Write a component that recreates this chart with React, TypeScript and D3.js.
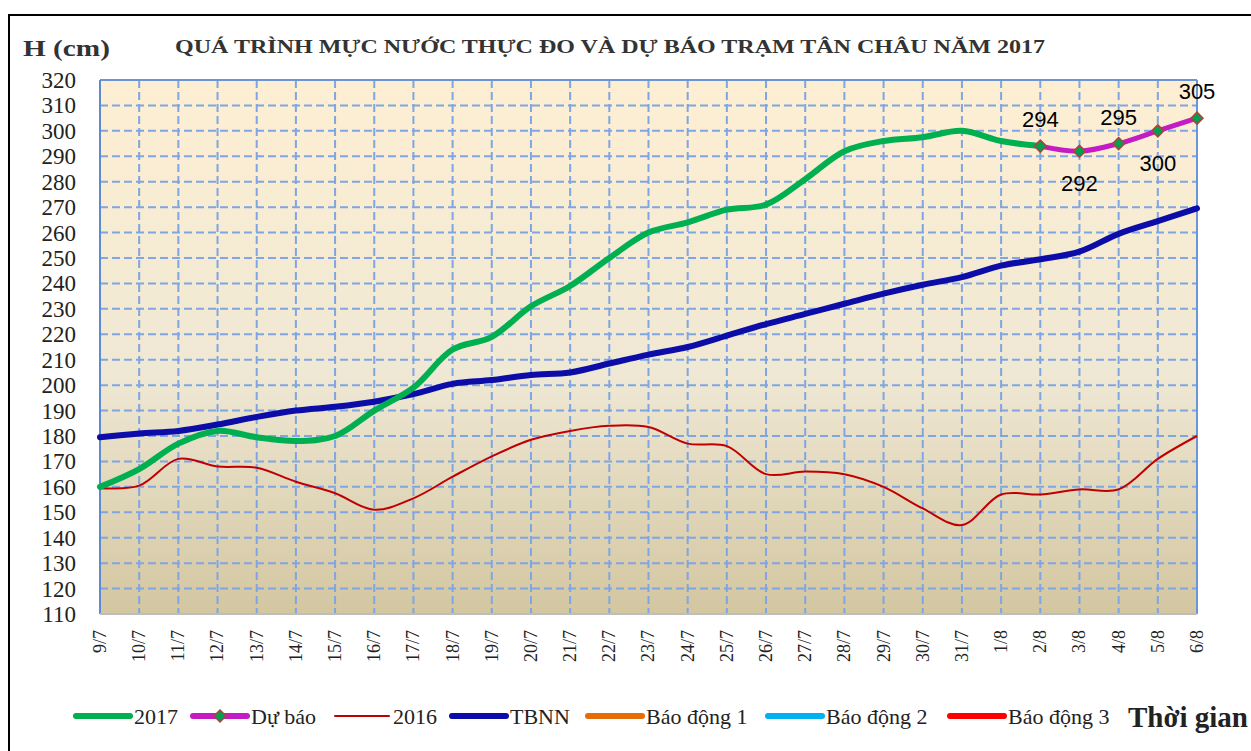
import React from 'react';
import * as d3 from 'd3';

const categories = ['9/7','10/7','11/7','12/7','13/7','14/7','15/7','16/7','17/7','18/7','19/7','20/7','21/7','22/7','23/7','24/7','25/7','26/7','27/7','28/7','29/7','30/7','31/7','1/8','2/8','3/8','4/8','5/8','6/8'];
const obs2017 = [160,167,177,182,179.5,178,180,190,199,214,219,231,239,250,260,264,269,271,281,292,296,297.5,300,296,294];
const forecastCats = ['2/8','3/8','4/8','5/8','6/8'];
const forecast = [294,292,295,300,305];
const forecastLabelPos = ['above','below','above','below','above'];
const y2016 = [159.5,160.5,171,168,167.5,162,157.5,151,155.5,164,172,178.5,182,184,183.5,177,176,165,166,165,160,151.5,145,157,157,159,159,171,180];
const tbnn = [179.5,181,182,184.5,187.5,190,191.5,193.5,196.5,200.5,202,204,205,208.5,212,215,219.5,224,228,232,236,239.5,242.5,247,249.5,252.5,259.5,264.5,269.5];
const yTicks = d3.range(110, 321, 10);

const legendItems = [
  { name: '2017', color: '#00B050', w: 6, marker: false, x: 76 },
  { name: 'Dự báo', color: '#C41BC4', w: 6, marker: true, x: 193 },
  { name: '2016', color: '#C00000', w: 2, marker: false, x: 335 },
  { name: 'TBNN', color: '#0C0CA8', w: 6, marker: false, x: 452 },
  { name: 'Báo động 1', color: '#E46C0A', w: 6, marker: false, x: 588 },
  { name: 'Báo động 2', color: '#00B0F0', w: 6, marker: false, x: 768 },
  { name: 'Báo động 3', color: '#FF0000', w: 6, marker: false, x: 950 },
];

const W = 1251, H = 751;
const L = 100, R = 1197, T = 80, B = 614;

export default function App() {
  const x = d3.scalePoint<string>().domain(categories).range([L, R]);
  const y = d3.scaleLinear().domain([110, 320]).range([B, T]);
  const curve = d3.curveCatmullRom.alpha(0.5);
  const line = d3.line<[string, number]>().x(d => x(d[0])!).y(d => y(d[1])).curve(curve);

  const d2017 = line(obs2017.map((v, i) => [categories[i], v] as [string, number]));
  const dFc = line(forecast.map((v, i) => [forecastCats[i], v] as [string, number]));
  const d2016 = line(y2016.map((v, i) => [categories[i], v] as [string, number]));
  const dTb = line(tbnn.map((v, i) => [categories[i], v] as [string, number]));

  const gridColor = '#7FA5E2';
  const diamond = (cx: number, cy: number, s: number) => `M${cx},${cy - s}L${cx + s},${cy}L${cx},${cy + s}L${cx - s},${cy}Z`;

  return (
    <svg width={W} height={H} style={{ position: 'absolute', left: 0, top: 0, background: '#fff' }}>
      <defs>
        <linearGradient id="bg" x1="0" y1="0" x2="0" y2="1">
          <stop offset="0" stopColor="#FEEFD3" />
          <stop offset="0.55" stopColor="#EFE8D4" />
          <stop offset="1" stopColor="#D3C6A1" />
        </linearGradient>
      </defs>
      {/* outer frame */}
      <path d={`M9,${H + 5}L9,15L${W + 5},15`} fill="none" stroke="#000" strokeWidth={2} />

      <text x={23} y={56} fontFamily="Liberation Serif" fontWeight="bold" fontSize={23} fill="#333" textLength={87} lengthAdjust="spacingAndGlyphs">H (cm)</text>
      <text x={175} y={53} fontFamily="Liberation Serif" fontWeight="bold" fontSize={19} fill="#333" textLength={870} lengthAdjust="spacingAndGlyphs">QUÁ TRÌNH MỰC NƯỚC THỰC ĐO VÀ DỰ BÁO TRẠM TÂN CHÂU NĂM 2017</text>

      <rect x={L} y={T} width={R - L} height={B - T} fill="url(#bg)" />

      {/* grid */}
      {yTicks.filter(t => t > 110 && t < 320).map(t => (
        <line key={'h' + t} x1={L} x2={R} y1={y(t)} y2={y(t)} stroke={gridColor} strokeWidth={2} strokeDasharray="8,4" />
      ))}
      {categories.slice(1, -1).map(c => (
        <line key={'v' + c} x1={x(c)} x2={x(c)} y1={T} y2={B} stroke={gridColor} strokeWidth={2} strokeDasharray="8,4" />
      ))}
      <line x1={L} x2={R} y1={T} y2={T} stroke="#6C95D8" strokeWidth={2} />
      <line x1={R} x2={R} y1={T} y2={B} stroke="#6C95D8" strokeWidth={2} />
      <line x1={L} x2={L} y1={T} y2={B} stroke="#5F8AD0" strokeWidth={2} />
      <line x1={L} x2={R} y1={B} y2={B} stroke="#BDBDBD" strokeWidth={2} />

      {/* y tick labels */}
      {yTicks.map(t => (
        <text key={'yl' + t} x={76} y={y(t)} dy="0.35em" textAnchor="end" fontFamily="Liberation Serif" fontSize={23} fill="#222">{t}</text>
      ))}
      {/* x tick labels */}
      {categories.map(c => (
        <text key={'xl' + c} transform={`translate(${x(c)},630) rotate(-90)`} dy="0.33em" textAnchor="end" fontFamily="Liberation Serif" fontSize={18} fill="#222">{c}</text>
      ))}

      {/* series */}
      <path d={d2016!} fill="none" stroke="#C00000" strokeWidth={2} />
      <path d={dTb!} fill="none" stroke="#0C0CA8" strokeWidth={6} strokeLinecap="round" />
      <path d={d2017!} fill="none" stroke="#00B050" strokeWidth={6} strokeLinecap="round" />
      <path d={dFc!} fill="none" stroke="#C41BC4" strokeWidth={5} strokeLinecap="round" />
      {forecast.map((v, i) => (
        <path key={'m' + i} d={diamond(x(forecastCats[i])!, y(v), 6)} fill="#00A050" stroke="#B04040" strokeWidth={1.5} />
      ))}
      {forecast.map((v, i) => (
        <text key={'lb' + i} x={x(forecastCats[i])!} y={forecastLabelPos[i] === 'above' ? y(v) - 19 : y(v) + 40} textAnchor="middle" fontFamily="Liberation Sans" fontSize={22} fill="#000">{v}</text>
      ))}

      {/* legend */}
      {legendItems.map(it => (
        <g key={it.name}>
          <line x1={it.x} x2={it.x + 54} y1={716} y2={716} stroke={it.color} strokeWidth={it.w === 2 ? 2 : 6} strokeLinecap="round" />
          {it.marker && <path d={diamond(it.x + 27, 716, 6)} fill="#00A050" stroke="#B04040" strokeWidth={1.5} />}
          <text x={it.x + 58} y={724} fontFamily="Liberation Serif" fontSize={22} fill="#222">{it.name}</text>
        </g>
      ))}
      <text x={1128} y={727} fontFamily="Liberation Serif" fontWeight="bold" fontSize={29} fill="#222" textLength={120} lengthAdjust="spacingAndGlyphs">Thời gian</text>
    </svg>
  );
}
